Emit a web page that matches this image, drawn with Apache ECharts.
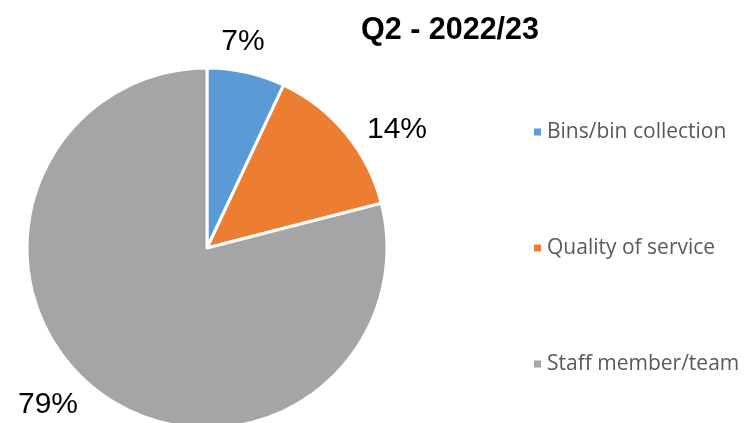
<!DOCTYPE html>
<html>
<head>
<meta charset="utf-8">
<script src="https://cdn.jsdelivr.net/npm/echarts@6/dist/echarts.min.js"></script>
<style>
  html, body { margin: 0; padding: 0; background: #fff; }
  #main { width: 745px; height: 423px; }
</style>
</head>
<body>
<div id="main"></div>
<script>
var categories = ['Bins/bin collection', 'Quality of service', 'Staff member/team'];
var values = [7, 14, 79];
var colors = ['#5B9BD5', '#ED7D31', '#A5A5A5'];

// label spots, roughly where Excel put them
var labelSpots = [[243, 42], [397, 130], [48, 405]];

var chartDom = document.getElementById('main');
var myChart = echarts.init(chartDom);
var option;

option = {
    animation: false,
    title: {
        text: 'Q2 - 2022/23',
        left: 445,
        top: 10,
        textAlign: 'center',
        textStyle: {
            fontFamily: 'Liberation Sans',
            fontWeight: 'bold',
            fontSize: 30.5,
            color: '#000'
        }
    },
    legend: {
        orient: 'vertical',
        left: 527,
        top: 115,
        itemWidth: 9,
        itemHeight: 9,
        itemGap: 92,
        itemSpacing: 6,
        icon: 'rect',
        data: categories,
        textStyle: {
            fontFamily: 'Open Sans',
            fontSize: 21,
            lineHeight: 24,
            color: '#595959'
        }
    },
    series: [
        {
            type: 'pie',
            center: [207, 248],
            radius: 180,
            startAngle: 90,
            clockwise: true,
            itemStyle: {
                borderColor: '#fff',
                borderWidth: 3
            },
            label: {
                show: true,
                position: 'outside',
                formatter: '{c}%',
                fontFamily: 'Liberation Sans',
                fontSize: 30,
                color: '#000',
                overflow: 'none'
            },
            labelLine: { show: false },
            labelLayout: function (params) {
                var p = labelSpots[params.dataIndex];
                return { x: p[0], y: p[1], align: 'center', verticalAlign: 'middle', hideOverlap: false };
            },
            data: categories.map(function (name, i) {
                return { name: name, value: values[i], itemStyle: { color: colors[i] } };
            })
        }
    ]
};

option && myChart.setOption(option);
</script>
</body>
</html>
